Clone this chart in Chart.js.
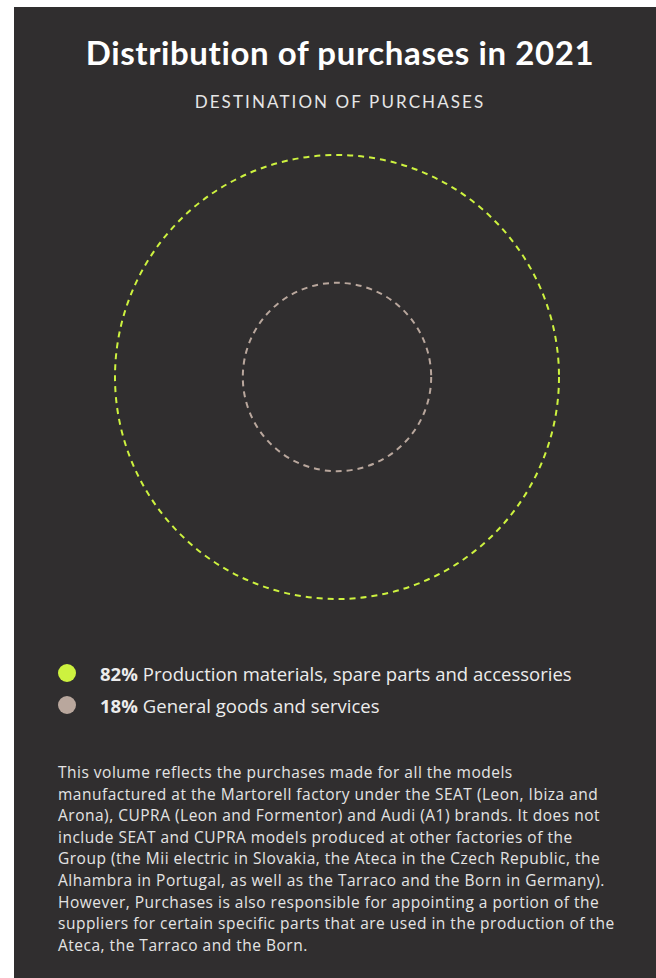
<!DOCTYPE html>
<html>
<head>
<meta charset="utf-8">
<script src="https://cdn.jsdelivr.net/npm/chart.js@4"></script>
<style>
  html, body { margin: 0; padding: 0; background: #fff; }
  body { width: 656px; height: 978px; position: relative; overflow: hidden; font-family: Lato, "Open Sans", sans-serif; }
  .panel { position: absolute; left: 14px; top: 7px; right: 0; bottom: 0; background: #302e2f; }
  h1 { position: absolute; left: 14px; width: 652px; top: 32px; margin: 0; text-align: center; color: #fff; font-size: 33px; font-weight: 700; letter-spacing: 0.6px; white-space: nowrap; }
  .sub { position: absolute; left: 14px; width: 652px; top: 91px; text-align: center; color: #e6e6e6; font-size: 17px; letter-spacing: 2.1px; }
  #wrap { position: absolute; left: 107px; top: 147px; width: 460px; height: 460px; }
  .legend { position: absolute; left: 58px; top: 657px; color: #ececec; font-family: "Open Sans", sans-serif; font-size: 18.5px; }
  .legend div { height: 32px; display: flex; align-items: center; white-space: nowrap; }
  .legend i { display: inline-block; width: 18px; height: 18px; border-radius: 50%; margin-right: 24px; }
  .legend b { margin-right: 5px; }
  .note { position: absolute; left: 58px; top: 762px; width: 598px; color: #e4e4e4; font-family: "Open Sans", sans-serif; font-size: 15.5px; letter-spacing: 0.5px; line-height: 21.6px; white-space: nowrap; }
</style>
</head>
<body>
<div class="panel"></div>
<h1>Distribution of purchases in 2021</h1>
<div class="sub">DESTINATION OF PURCHASES</div>
<div id="wrap"><canvas id="circles"></canvas></div>
<div class="legend" id="legend"></div>
<div class="note">This volume reflects the purchases made for all the models<br>manufactured at the Martorell factory under the SEAT (Leon, Ibiza and<br>Arona), CUPRA (Leon and Formentor) and Audi (A1) brands. It does not<br>include SEAT and CUPRA models produced at other factories of the<br>Group (the Mii electric in Slovakia, the Ateca in the Czech Republic, the<br>Alhambra in Portugal, as well as the Tarraco and the Born in Germany).<br>However, Purchases is also responsible for appointing a portion of the<br>suppliers for certain specific parts that are used in the production of the<br>Ateca, the Tarraco and the Born.</div>
<script>
const categories = ['Production materials, spare parts and accessories', 'General goods and services'];
const shares = [82, 18];
const colors = ['#cdf23f', '#b9a79d'];

// nested circles: each circle's area covers its own share plus the ones inside it
const cumulative = shares.map((v, i) => shares.slice(i).reduce((a, b) => a + b, 0));

const legend = document.getElementById('legend');
categories.forEach((name, i) => {
  const row = document.createElement('div');
  row.innerHTML = `<i style="background:${colors[i]}"></i><b>${shares[i]}%</b>${name}`;
  legend.appendChild(row);
});

const dashedCircles = {
  id: 'dashedCircles',
  afterDatasetsDraw(chart) {
    const { ctx, scales: { x } } = chart;
    const meta = chart.getDatasetMeta(0);
    ctx.save();
    ctx.lineWidth = 2;
    ctx.setLineDash([6, 5]);
    meta.data.forEach((pt, i) => {
      const r = x.getPixelForValue(Math.sqrt(cumulative[i])) - x.getPixelForValue(0);
      ctx.strokeStyle = colors[i];
      ctx.beginPath();
      ctx.arc(pt.x, pt.y, r, 0, Math.PI * 2);
      ctx.stroke();
    });
    ctx.restore();
  }
};

const chart = new Chart(document.getElementById('circles').getContext('2d'), {
  type: 'scatter',
  data: {
    labels: categories,
    datasets: [{
      data: shares.map(() => ({ x: 0, y: 0 })),
      pointRadius: 0,
    }],
  },
  options: {
    responsive: true,
    maintainAspectRatio: false,
    animation: false,
    layout: { padding: 0 },
    scales: {
      x: { display: false, min: -10.36, max: 10.36 },
      y: { display: false, min: -10.36, max: 10.36 },
    },
    plugins: {
      legend: { display: false },
      tooltip: { enabled: false },
    }
  },
  plugins: [dashedCircles]
});
</script>
</body>
</html>
